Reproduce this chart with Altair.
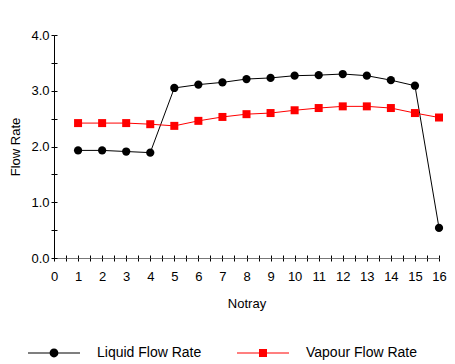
import altair as alt
import pandas as pd

notray = [1, 2, 3, 4, 5, 6, 7, 8, 9, 10, 11, 12, 13, 14, 15, 16]
liquid = [1.93, 1.93, 1.91, 1.89, 3.05, 3.11, 3.15, 3.21, 3.23, 3.27, 3.28, 3.30, 3.27, 3.19, 3.09, 0.54]
vapour = [2.42, 2.42, 2.42, 2.40, 2.37, 2.46, 2.53, 2.58, 2.60, 2.65, 2.69, 2.72, 2.72, 2.69, 2.60, 2.52]
series_names = ["Liquid Flow Rate", "Vapour Flow Rate"]
series_colors = ["#000000", "#ff0000"]
x_ticks = [0, 0.5, 1, 1.5, 2, 2.5, 3, 3.5, 4, 4.5, 5, 5.5, 6, 6.5, 7, 7.5, 8,
           8.5, 9, 9.5, 10, 10.5, 11, 11.5, 12, 12.5, 13, 13.5, 14, 14.5, 15, 15.5, 16]
y_ticks = [0, 0.5, 1, 1.5, 2, 2.5, 3, 3.5, 4]

rows = []
for n, l, v in zip(notray, liquid, vapour):
    rows.append({"Notray": n, "Flow": l, "Series": series_names[0]})
    rows.append({"Notray": n, "Flow": v, "Series": series_names[1]})
df = pd.DataFrame(rows)

FONT = "Liberation Sans"
W, H = 385, 223

xs = alt.Scale(domain=[0, 16], nice=False, zero=False)
ys = alt.Scale(domain=[0, 4], nice=False, zero=False)

x_axis_main = alt.Axis(values=x_ticks, labelExpr="datum.value % 1 == 0 ? format(datum.value, 'd') : ''",
                       labelOverlap=False, labelFlush=False, tickSize=3, tickColor="black",
                       domainColor="#777777",
                       labelPadding=9, labelFontSize=13, labelFont=FONT, labelColor="black",
                       title="Notray", titleFont=FONT, titleFontSize=13, titleFontWeight="normal",
                       titleColor="black", titlePadding=14, grid=False)
y_axis_main = alt.Axis(values=y_ticks, labelExpr="datum.value % 1 == 0 ? format(datum.value, '.1f') : ''",
                       labelOverlap=False, labelFlush=False, tickSize=3, tickColor="black",
                       domainColor="black",
                       labelPadding=2, labelFontSize=13, labelFont=FONT, labelColor="black",
                       title="Flow Rate", titleFont=FONT, titleFontSize=13, titleFontWeight="normal",
                       titleColor="black", titlePadding=8, grid=False)
x_axis_in = alt.Axis(orient="top", offset=-H, values=x_ticks, labels=False, domain=False,
                     tickSize=3, tickColor="black", title=None, grid=False)
y_axis_in = alt.Axis(orient="right", offset=-W, values=y_ticks, labels=False, domain=False,
                     tickSize=3, tickColor="black", title=None, grid=False)

base = alt.Chart(df)

lines = base.mark_line(strokeWidth=1).encode(
    x=alt.X("Notray:Q", scale=xs, axis=x_axis_main),
    y=alt.Y("Flow:Q", scale=ys, axis=y_axis_main),
    color=alt.Color("Series:N", scale=alt.Scale(domain=series_names, range=series_colors), legend=None),
)

circle_sym = ("M-1,-0.02H1V0.02H-1Z"
              "M-0.17,0A0.17,0.17,0,1,1,0.17,0A0.17,0.17,0,1,1,-0.17,0Z")
square_sym = "M-1,-0.02H1V0.02H-1ZM-0.154,-0.154H0.154V0.154H-0.154Z"

LEG_Y = 292
leg_liq = alt.Legend(orient="none", legendX=-26, legendY=LEG_Y, title=None, symbolType=circle_sym,
                     symbolSize=2704, symbolStrokeWidth=0, labelFont=FONT, labelFontSize=14,
                     labelColor="black", labelOffset=17, padding=0)
leg_vap = alt.Legend(orient="none", legendX=183, legendY=LEG_Y, title=None, symbolType=square_sym,
                     symbolSize=2704, symbolStrokeWidth=0, labelFont=FONT, labelFontSize=14,
                     labelColor="black", labelOffset=17, padding=0)

pts_liq = base.transform_filter(alt.datum.Series == series_names[0]).mark_point(
    filled=True, size=68, opacity=1).encode(
    x=alt.X("Notray:Q", scale=xs, axis=x_axis_in),
    y=alt.Y("Flow:Q", scale=ys, axis=y_axis_in),
    fill=alt.Fill("Series:N", scale=alt.Scale(domain=series_names[:1], range=series_colors[:1]), legend=leg_liq),
)
pts_vap = base.transform_filter(alt.datum.Series == series_names[1]).mark_point(
    filled=True, shape="square", size=64, opacity=1).encode(
    x=alt.X("Notray:Q", scale=xs, axis=None),
    y=alt.Y("Flow:Q", scale=ys, axis=None),
    fill=alt.Fill("Series:N", scale=alt.Scale(domain=series_names[1:], range=series_colors[1:]), legend=leg_vap),
)

chart = alt.layer(lines, pts_liq, pts_vap).resolve_scale(
    x="independent", y="independent", fill="independent"
).resolve_axis(
    x="independent", y="independent"
).resolve_legend(
    fill="independent"
).properties(
    width=W, height=H,
    autosize=alt.AutoSizeParams(type="none"),
    padding={"left": 46, "top": 27, "right": 8, "bottom": 102},
).configure_view(stroke=None)

chart.save("out.html", embed_options={"renderer": "svg", "actions": False})
